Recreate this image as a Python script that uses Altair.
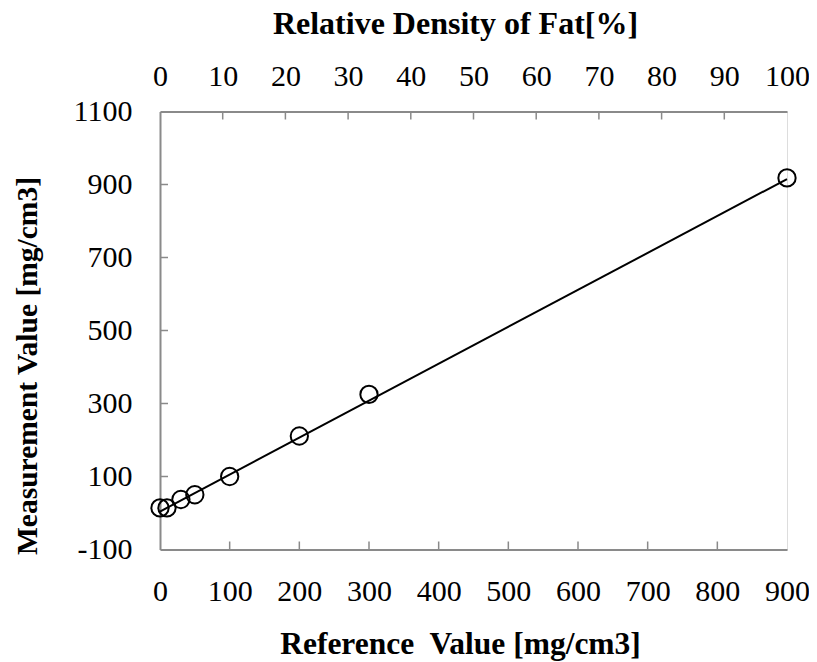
import altair as alt
import pandas as pd

# ---- data ----
ref_x = [0, 10, 30, 50, 100, 200, 300, 900]
meas_y = [14, 14, 37, 50, 100, 211, 325, 918]
fit_x = [0, 900]
fit_y = [4, 915]
x_ticks = [0, 100, 200, 300, 400, 500, 600, 700, 800, 900]
y_ticks = [-100, 100, 300, 500, 700, 900, 1100]
pct_ticks = [0, 10, 20, 30, 40, 50, 60, 70, 80, 90, 100]

GRAY = "#8a8a8a"
FONT = "Liberation Serif"
W, H = 627, 438
TICK = 8

common = dict(
    ticks=False, tickSize=0, grid=False, labelFlush=False, labelOverlap=False,
    domainColor=GRAY, domainWidth=2, labelFont=FONT, labelFontSize=30,
    labelColor="black", titleFont=FONT, titleFontWeight="bold",
    titleColor="black", titleAlign="center", titleBaseline="alphabetic",
    labelExpr="'' + datum.value",
)

xaxis = alt.Axis(values=x_ticks, title="Reference\u00a0 Value [mg/cm3]",
                 titleFontSize=31.5,
                 labelPadding=27, titleX=300, titleY=104, orient="bottom", **common)
yaxis = alt.Axis(values=y_ticks, title="Measurement Value [mg/cm3]",
                 titleFontSize=29.5,
                 labelPadding=28, titleX=-124, titleY=254, titleAngle=270,
                 orient="left", **common)
topaxis = alt.Axis(values=pct_ticks, title="Relative Density of Fat[%]",
                   titleFontSize=32,
                   labelPadding=20, titleX=295, titleY=-78, orient="top", **common)

xs = alt.X("x:Q", scale=alt.Scale(domain=[0, 900], nice=False, zero=False), axis=xaxis)
ys = alt.Y("y:Q", scale=alt.Scale(domain=[-100, 1100], nice=False, zero=False), axis=yaxis)

line = alt.Chart(pd.DataFrame({"x": fit_x, "y": fit_y})).mark_line(
    color="black", strokeWidth=2).encode(x=xs, y=ys)

pts = alt.Chart(pd.DataFrame({"x": ref_x, "y": meas_y})).mark_point(
    shape="circle", filled=False, color="black", size=300, strokeWidth=2, opacity=1
).encode(x=xs, y=ys)

xt = alt.Chart(pd.DataFrame({"x": x_ticks[1:-1]})).mark_rule(
    color=GRAY, strokeWidth=1.5).encode(x=xs, y=alt.value(H), y2=alt.value(H - TICK))

yt = alt.Chart(pd.DataFrame({"y": y_ticks[1:-1]})).mark_rule(
    color=GRAY, strokeWidth=1.5).encode(y=ys, x=alt.value(0), x2=alt.value(TICK))

top = alt.Chart(pd.DataFrame({"p": pct_ticks[1:-1]})).mark_rule(
    color=GRAY, strokeWidth=1.5).encode(
    x=alt.X("p:Q", scale=alt.Scale(domain=[0, 100], nice=False, zero=False), axis=topaxis),
    y=alt.value(0), y2=alt.value(TICK))

inner = alt.layer(line, pts, xt, yt)

chart = alt.layer(inner, top).resolve_scale(x="independent").properties(
    width=W, height=H,
    autosize=alt.AutoSizeParams(type="none"),
    padding={"left": 152, "top": 103.5, "right": 22, "bottom": 112},
).configure_view(stroke=GRAY, strokeWidth=2).configure(background="white")

chart.save("out.html", embed_options={"renderer": "svg", "actions": False})
